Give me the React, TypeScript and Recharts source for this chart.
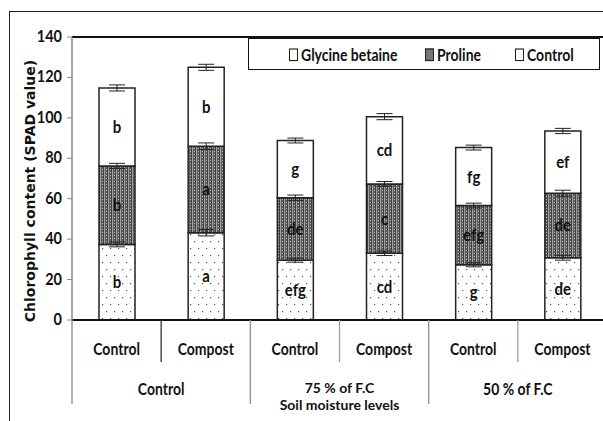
import React from "react";
import {
  BarChart,
  Bar,
  XAxis,
  YAxis,
  ErrorBar,
  LabelList,
  ReferenceLine,
} from "recharts";

const treatments = ["Control", "Compost", "Control", "Compost", "Control", "Compost"];
const moistureLevels = ["Control", "75 % of F.C", "50 % of F.C"];

const controlValues = [37.4, 43.2, 29.6, 33.0, 27.3, 30.8];
const prolineValues = [38.8, 42.8, 30.9, 34.3, 29.3, 31.9];
const glycineValues = [38.6, 39.0, 28.3, 33.3, 28.7, 30.8];

const controlErr = [1.2, 1.6, 1.0, 1.1, 1.0, 1.2];
const prolineErr = [1.3, 1.6, 1.3, 1.2, 1.2, 1.5];
const glycineErr = [1.5, 1.5, 1.2, 1.5, 1.2, 1.3];

const controlLetters = ["b", "a", "efg", "cd", "g", "de"];
const prolineLetters = ["b", "a", "de", "c", "efg", "de"];
const glycineLetters = ["b", "b", "g", "cd", "fg", "ef"];

const yTicks = [0, 20, 40, 60, 80, 100, 120, 140];

const data = treatments.map((t, i) => ({
  key: `${i}-${t}`,
  treatment: t,
  control: controlValues[i],
  proline: prolineValues[i],
  glycine: glycineValues[i],
  controlErr: controlErr[i],
  prolineErr: prolineErr[i],
  glycineErr: glycineErr[i],
  controlLetter: controlLetters[i],
  prolineLetter: prolineLetters[i],
  glycineLetter: glycineLetters[i],
}));

const FONT = "Lato, 'Open Sans', sans-serif";
const CHART_W = 607;
const LEFT = 72;
const TOP = 37;
const BOTTOM = 320;
const CAT_W = (CHART_W - LEFT) / treatments.length;
const STRETCH = 1.15;

// tall, narrow text like the original's Calibri
const Tall = ({ x, y, children, size = 14, anchor = "middle", stretch = STRETCH }: any) => (
  <text
    transform={`translate(${x},${y}) scale(1,${stretch})`}
    textAnchor={anchor}
    fontFamily={FONT}
    fontWeight="bold"
    fontSize={size}
    fill="#111"
  >
    {children}
  </text>
);

const XTick = (props: any) => {
  const { x, payload } = props;
  const i = payload.index;
  const half = CAT_W / 2;
  return (
    <g>
      <Tall x={x} y={355}>
        {treatments[i]}
      </Tall>
      {i % 2 === 0 && (
        <>
          <line x1={x - half} y1={BOTTOM} x2={x - half} y2={404} stroke="#9a9a9a" strokeWidth={1.5} />
          <line
            x1={x + half}
            y1={BOTTOM}
            x2={x + half}
            y2={362}
            stroke={i === 0 ? "#222" : "#9a9a9a"}
            strokeWidth={1.2}
          />
          <Tall x={x + half} y={i === 2 ? 393 : 395} stretch={i === 2 ? 1 : STRETCH}>
            {moistureLevels[i / 2]}
          </Tall>
          {i === 2 && (
            <Tall x={x + half} y={410} stretch={1}>
              Soil moisture levels
            </Tall>
          )}
        </>
      )}
    </g>
  );
};

const YTick = (props: any) => {
  const { x, y, payload } = props;
  return (
    <Tall x={x - 3} y={y + 5} size={14.5} anchor="end">
      {payload.value}
    </Tall>
  );
};

const YTitle = () => (
  <text
    transform="translate(35,191) rotate(-90)"
    textAnchor="middle"
    fontFamily="'DejaVu Sans', Verdana, sans-serif"
    fontWeight="bold"
    fontSize={14}
    fill="#111"
  >
    Chlorophyll content (SPAD value)
  </text>
);

const SegmentLetter = (props: any) => {
  const { x, y, width, height, value } = props;
  return (
    <Tall x={x + width / 2} y={y + height / 2 + 6} size={15}>
      {value}
    </Tall>
  );
};

const LegendBox = () => (
  <div
    style={{
      position: "absolute",
      left: 248,
      top: 38,
      width: 350,
      height: 30,
      border: "1.5px solid #111",
      background: "#fff",
      fontFamily: FONT,
      fontWeight: "bold",
      fontSize: 14,
      color: "#111",
    }}
  >
    <div style={{ position: "absolute", top: 6, left: 0, width: "100%", transform: `scaleY(${STRETCH})` }}>
      <span style={{ position: "absolute", left: 40, display: "flex", alignItems: "center" }}>
        <span style={{ width: 7, height: 9, border: "1px solid #222", marginRight: 3, display: "inline-block" }} />
        Glycine betaine
      </span>
      <span style={{ position: "absolute", left: 176, display: "flex", alignItems: "center" }}>
        <span style={{ width: 7, height: 9, border: "1px solid #222", marginRight: 3, display: "inline-block", background: "#777" }} />
        Proline
      </span>
      <span style={{ position: "absolute", left: 266, display: "flex", alignItems: "center" }}>
        <span style={{ width: 7, height: 9, border: "1px solid #222", marginRight: 3, display: "inline-block" }} />
        Control
      </span>
    </div>
  </div>
);

export default function App() {
  return (
    <div
      style={{
        position: "absolute",
        left: 0,
        top: 0,
        width: 603,
        height: 421,
        overflow: "hidden",
        background: "#fff",
      }}
    >
      <div
        style={{
          position: "absolute",
          left: 9,
          top: 11,
          width: 600,
          height: 420,
          borderLeft: "1px solid #222",
          borderTop: "1px solid #222",
        }}
      />
      <BarChart
        width={CHART_W}
        height={421}
        data={data}
        margin={{ top: TOP, right: 0, left: 0, bottom: 0 }}
        barSize={36}
      >
        <defs>
          <pattern id="dots" width="8" height="14" patternUnits="userSpaceOnUse">
            <rect width="8" height="14" fill="#fff" />
            <rect x="2" y="3" width="1.2" height="1.2" fill="#555" />
            <rect x="6" y="10" width="1.2" height="1.2" fill="#555" />
          </pattern>
          <pattern id="mesh" width="4" height="3" patternUnits="userSpaceOnUse">
            <rect width="4" height="3" fill="#5e5e5e" />
            <rect x="0" y="0" width="1" height="3" fill="#a0a0a0" />
            <rect x="2" y="1" width="1" height="1" fill="#c0c0c0" />
            <rect x="3" y="0" width="1" height="3" fill="#404040" />
          </pattern>
        </defs>
        <XAxis
          dataKey="key"
          height={421 - BOTTOM}
          axisLine={{ stroke: "#111", strokeWidth: 2 }}
          tickLine={false}
          tick={<XTick />}
          interval={0}
        />
        <YAxis
          width={LEFT}
          domain={[0, 140]}
          ticks={yTicks}
          axisLine={{ stroke: "#888", strokeWidth: 1.5 }}
          tickLine={{ stroke: "#888" }}
          tickSize={5}
          tick={<YTick />}
          label={{ content: () => <YTitle /> }}
        />
        <ReferenceLine y={140} stroke="#111" strokeWidth={2} />
        <Bar
          dataKey="control"
          stackId="a"
          fill="url(#dots)"
          stroke="#222"
          strokeWidth={1.5}
          isAnimationActive={false}
        >
          <ErrorBar dataKey="controlErr" width={8} stroke="#222" strokeWidth={1} direction="y" />
          <LabelList dataKey="controlLetter" content={<SegmentLetter />} />
        </Bar>
        <Bar
          dataKey="proline"
          stackId="a"
          fill="url(#mesh)"
          stroke="#222"
          strokeWidth={1.5}
          isAnimationActive={false}
        >
          <ErrorBar dataKey="prolineErr" width={8} stroke="#222" strokeWidth={1} direction="y" />
          <LabelList dataKey="prolineLetter" content={<SegmentLetter />} />
        </Bar>
        <Bar
          dataKey="glycine"
          stackId="a"
          fill="#fff"
          stroke="#222"
          strokeWidth={1.5}
          isAnimationActive={false}
        >
          <ErrorBar dataKey="glycineErr" width={8} stroke="#222" strokeWidth={1} direction="y" />
          <LabelList dataKey="glycineLetter" content={<SegmentLetter />} />
        </Bar>
      </BarChart>
      <LegendBox />
    </div>
  );
}
